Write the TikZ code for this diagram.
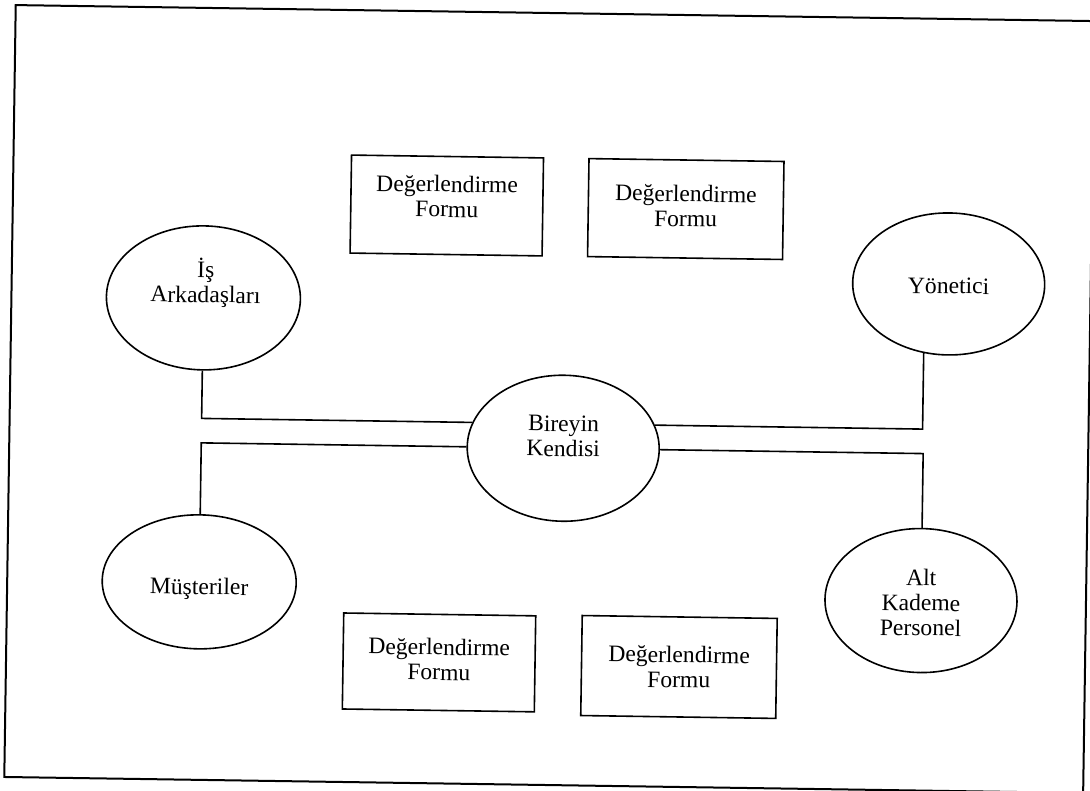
\documentclass[tikz,border=0pt]{standalone}
\usepackage{fontspec}
\setmainfont{Liberation Serif}
\usetikzlibrary{shapes.geometric}
\begin{document}
\begin{tikzpicture}[x=1pt,y=-1pt,
  oval/.style={draw, ellipse, line width=1.6pt, inner sep=0pt},
  formbox/.style={draw, rectangle, line width=1.6pt, inner sep=0pt},
  lbl/.style={align=center, inner sep=0pt, font=\fontsize{23.6}{25}\selectfont},
  link/.style={line width=1.6pt},
  outerframe/.style={line width=2pt}]
\useasboundingbox (0,0) rectangle (1090,791);
\begin{scope}[transform canvas={rotate around={-0.85:(547,395)}}]
  \draw[outerframe] (10,13) rectangle (1089,785);
  % forms
  \node[formbox, minimum width=192pt, minimum height=98pt] (f1) at (444,207) {};
  \node[formbox, minimum width=195pt, minimum height=98pt] (f2) at (683,207) {};
  \node[formbox, minimum width=192pt, minimum height=96pt] (f3) at (443,664) {};
  \node[formbox, minimum width=195pt, minimum height=100pt] (f4) at (683,665) {};
  \node[lbl] (f1t) at (444,198) {Değerlendirme\\Formu};
  \node[lbl] (f2t) at (683,204) {Değerlendirme\\Formu};
  \node[lbl] (f3t) at (443,661) {Değerlendirme\\Formu};
  \node[lbl] (f4t) at (683,665) {Değerlendirme\\Formu};
  % ellipses
  \node[oval, minimum width=194pt, minimum height=144pt] (isa) at (202,303) {};
  \node[oval, minimum width=192pt, minimum height=142pt] (yon) at (947,278) {};
  \node[oval, minimum width=192pt, minimum height=146pt] (bk) at (564,448) {};
  \node[oval, minimum width=194pt, minimum height=134pt] (mus) at (202,587) {};
  \node[oval, minimum width=192pt, minimum height=144pt] (alt) at (924,595) {};
  \node[lbl] (isat) at (204,288) {İş\\Arkadaşları};
  \node[lbl] (yont) at (947,280) {Yönetici};
  \node[lbl] (bkt) at (564,436) {Bireyin\\Kendisi};
  \node[lbl] (must) at (202,594) {Müşteriler};
  \node[lbl] (altt) at (924,597) {Alt\\Kademe\\Personel};
  % connectors
  \draw[link] (bk.165) -| (isa.south);
  \draw[link] (bk.west) -| (mus.north);
  \draw[link] (bk.15) -| (yon.251.5);
  \draw[link] (bk.east) -| (alt.north);
\end{scope}
\end{tikzpicture}
\end{document}
